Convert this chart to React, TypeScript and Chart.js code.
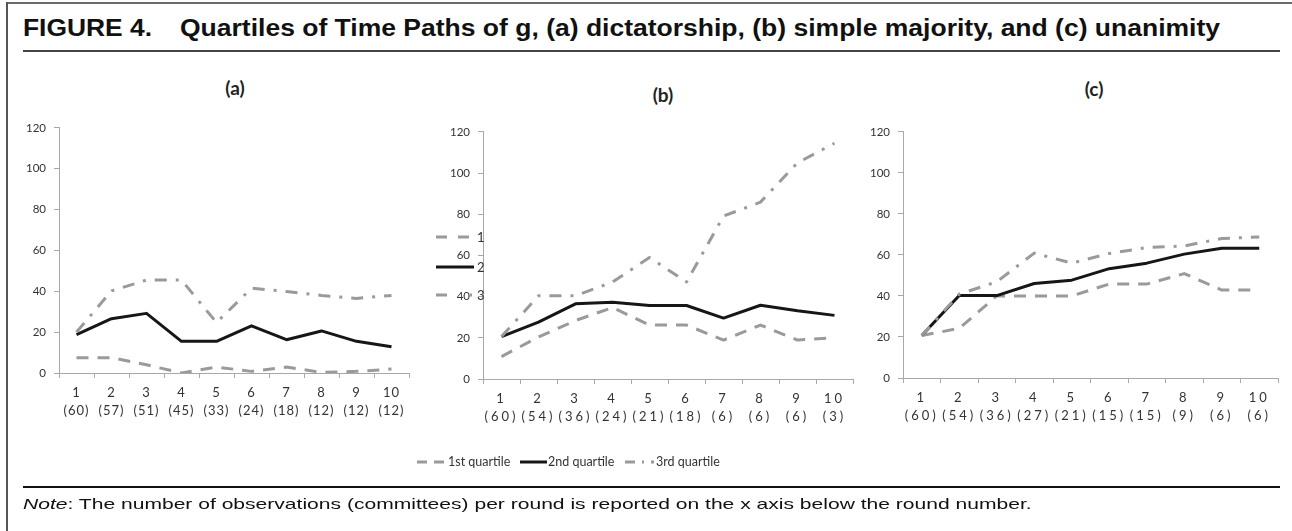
import React, { useEffect, useRef } from "react";
import { Chart, registerables } from "chart.js";
Chart.register(...registerables);

// ---- data ----
const rounds = ["1", "2", "3", "4", "5", "6", "7", "8", "9", "10"];
const obsA = ["(60)", "(57)", "(51)", "(45)", "(33)", "(24)", "(18)", "(12)", "(12)", "(12)"];
const obsB = ["(60)", "(54)", "(36)", "(24)", "(21)", "(18)", "(6)", "(6)", "(6)", "(3)"];
const obsC = ["(60)", "(54)", "(36)", "(27)", "(21)", "(15)", "(15)", "(9)", "(6)", "(6)"];

const q1A = [7.5, 7.5, 4, 0, 2.9, 0.8, 2.9, 0.3, 0.8, 1.9];
const q2A = [18.8, 26.6, 29.2, 15.5, 15.5, 23.1, 16.3, 20.6, 15.5, 12.8];
const q3A = [20, 40.2, 45.5, 45.5, 24.7, 41.5, 39.9, 38, 36.5, 38];

const q1B = [10.9, 20.4, 28.4, 34.7, 26.2, 26.2, 18.9, 26.2, 18.9, 20.1];
const q2B = [20.6, 27.6, 36.5, 37.3, 35.7, 35.7, 29.6, 35.8, 33.1, 30.9];
const q3B = [20.6, 40.4, 40.4, 47.1, 59, 47.1, 79.1, 85.9, 105, 114.5];

const q1C = [20.7, 24.2, 40, 40, 40, 45.8, 45.8, 50.9, 42.9, 42.9];
const q2C = [20.7, 40.2, 40.2, 46.1, 47.7, 53.3, 56, 60.4, 63.3, 63.3];
const q3C = [20.7, 40.9, 46.9, 60.9, 56, 60.7, 63.6, 64.4, 68, 68.8];

const seriesNames = ["1st quartile", "2nd quartile", "3rd quartile"];
const yMin = 0;
const yMax = 120;
const yStep = 20;

const TITLE_A = "FIGURE 4.";
const TITLE_B = "Quartiles of Time Paths of g, (a) dictatorship, (b) simple majority, and (c) unanimity";
const NOTE_A = "Note";
const NOTE_B = ": The number of observations (committees) per round is reported on the x axis below the round number.";

const GRAY = "#9a9a9a";
const BLACK = "#161616";
const AXIS = "#a8a8a8";
const DASH = [12, 9];
const DASHDOT = [12, 9, 3, 9];

let measureCtx: CanvasRenderingContext2D | null = null;
function textWidth(text: string, font: string) {
  if (!measureCtx) measureCtx = document.createElement("canvas").getContext("2d");
  measureCtx!.font = font;
  return measureCtx!.measureText(text).width;
}

function lsPlugin(ls: string) {
  return {
    id: "xLetterSpacing",
    beforeDraw(chart: any) {
      const xs: any = chart.scales.x;
      if (xs && !xs.__lsPatched) {
        const orig = xs.drawLabels.bind(xs);
        xs.drawLabels = (area: any) => {
          const ctx: any = chart.ctx;
          ctx.save();
          ctx.letterSpacing = ls;
          orig(area);
          ctx.restore();
        };
        xs.__lsPatched = true;
      }
    },
  };
}

type PanelProps = {
  left: number; top: number; width: number; height: number;
  plotLeft: number; plotTop: number; plotRight: number; plotBottom: number;
  obs: string[]; q1: number[]; q2: number[]; q3: number[]; ls: string;
};

function Panel(p: PanelProps) {
  const ref = useRef<HTMLCanvasElement>(null);
  useEffect(() => {
    const canvas = ref.current!;
    const labels = rounds.map((r, i) => [r, p.obs[i]]);
    const chart = new Chart(canvas, {
      type: "line",
      data: {
        labels,
        datasets: [
          { label: seriesNames[0], data: p.q1, borderColor: GRAY, borderWidth: 3, borderDash: DASH, order: 2 },
          { label: seriesNames[1], data: p.q2, borderColor: BLACK, borderWidth: 3, order: 1 },
          { label: seriesNames[2], data: p.q3, borderColor: GRAY, borderWidth: 3, borderDash: DASHDOT, order: 0 },
        ],
      },
      options: {
        responsive: false,
        animation: false,
        devicePixelRatio: 1,
        layout: {
          padding: { top: p.plotTop - p.top, right: p.left + p.width - p.plotRight, left: 0, bottom: 0 },
        },
        elements: {
          point: { radius: 0, hoverRadius: 0 },
          line: { tension: 0, fill: false, borderJoinStyle: "round", borderCapStyle: "butt" },
        },
        plugins: { legend: { display: false }, tooltip: { enabled: false } },
        scales: {
          x: {
            type: "category",
            offset: true,
            grid: { offset: true, drawOnChartArea: false, drawTicks: true, tickLength: 5, color: AXIS, lineWidth: 1 },
            border: { display: true, color: AXIS, width: 1 },
            ticks: {
              autoSkip: false, maxRotation: 0, minRotation: 0, padding: 5, color: "#333",
              font: { family: "Lato", size: 13, lineHeight: 1.45 },
            },
            afterFit: (s: any) => { s.height = p.top + p.height - p.plotBottom; },
          },
          y: {
            min: yMin, max: yMax,
            ticks: { stepSize: yStep, padding: 8, color: "#333", font: { family: "Lato", size: 11.5 } },
            grid: { drawOnChartArea: false, drawTicks: true, tickLength: 5, color: AXIS, lineWidth: 1 },
            border: { display: true, color: AXIS, width: 1 },
            afterFit: (s: any) => { s.width = p.plotLeft - p.left; },
          },
        },
      } as any,
      plugins: [lsPlugin(p.ls)],
    });
    return () => chart.destroy();
  }, []);
  return (
    <canvas
      ref={ref}
      width={p.width}
      height={p.height}
      style={{ position: "absolute", left: p.left, top: p.top, width: p.width, height: p.height }}
    />
  );
}

const txt = (left: number, top: number, size: number, extra: any = {}) => ({
  position: "absolute" as const, left, top, fontSize: size, lineHeight: `${size}px`, whiteSpace: "nowrap" as const, ...extra,
});

function Stretched(props: { left: number; top: number; size: number; target: number; width: number; style?: any; children: any }) {
  const k = props.target / Math.max(1, props.width);
  return (
    <div style={txt(props.left, props.top, props.size, { transform: `scaleX(${k})`, transformOrigin: "0 0", ...props.style })}>
      {props.children}
    </div>
  );
}

export default function App() {
  const AR = "'Liberation Sans', Arial";
  const tSize = 23;
  const wTA = textWidth(TITLE_A, `bold ${tSize}px ${AR}`);
  const wTB = textWidth(TITLE_B, `bold ${tSize}px ${AR}`);
  const nSize = 14.5;
  const wN = textWidth(NOTE_A, `italic ${nSize}px ${AR}`) + textWidth(NOTE_B, `${nSize}px ${AR}`);

  return (
    <div style={{ position: "absolute", left: 0, top: 0, width: 1292, height: 531, overflow: "hidden", background: "#fff", fontFamily: "Lato" }}>
      <Stretched left={23} top={17} size={tSize} target={129} width={wTA} style={{ fontFamily: AR, fontWeight: 700, color: "#111" }}>
        {TITLE_A}
      </Stretched>
      <Stretched left={180} top={17} size={tSize} target={1040} width={wTB} style={{ fontFamily: AR, fontWeight: 700, color: "#111" }}>
        {TITLE_B}
      </Stretched>

      <div style={txt(220, 78, 19, { fontWeight: 700, color: "#222", width: 30, textAlign: "center" })}>(a)</div>
      <div style={txt(648, 85, 19, { fontWeight: 700, color: "#222", width: 30, textAlign: "center" })}>(b)</div>
      <div style={txt(1079, 79, 19, { fontWeight: 700, color: "#222", width: 30, textAlign: "center" })}>(c)</div>

      <Panel left={12} top={113} width={410} height={320} plotLeft={59} plotTop={123} plotRight={409} plotBottom={373}
        obs={obsA} q1={q1A} q2={q2A} q3={q3A} ls="1px" />
      <Panel left={430} top={117} width={435} height={320} plotLeft={483} plotTop={127} plotRight={853} plotBottom={379}
        obs={obsB} q1={q1B} q2={q2B} q3={q3B} ls="3px" />
      <Panel left={855} top={117} width={437} height={320} plotLeft={903} plotTop={127} plotRight={1278} plotBottom={378}
        obs={obsC} q1={q1C} q2={q2C} q3={q3C} ls="3px" />

      <svg width={1292} height={531} style={{ position: "absolute", left: 0, top: 0, pointerEvents: "none" }}>
        {/* frame */}
        <line x1={6} y1={3} x2={1292} y2={3} stroke="#6b6b6b" strokeWidth={2} />
        <line x1={7} y1={2} x2={7} y2={531} stroke="#555" strokeWidth={2} />
        <line x1={23} y1={51} x2={1280} y2={51} stroke="#444" strokeWidth={2} />
        <line x1={23} y1={487} x2={1280} y2={487} stroke="#111" strokeWidth={2} />
        {/* legend samples */}
        <line x1={417} y1={462} x2={444} y2={462} stroke={GRAY} strokeWidth={3} strokeDasharray="10 7" />
        <line x1={520} y1={462} x2={547} y2={462} stroke={BLACK} strokeWidth={3} />
        <line x1={625} y1={462} x2={654} y2={462} stroke={GRAY} strokeWidth={3} strokeDasharray="10 7 2 7" />
        {/* stray partial legend */}
        <line x1={436} y1={237} x2={472} y2={237} stroke={GRAY} strokeWidth={3} strokeDasharray="11 11" />
        <line x1={436} y1={267} x2={474} y2={267} stroke={BLACK} strokeWidth={3} />
        <line x1={436} y1={295} x2={473} y2={295} stroke={GRAY} strokeWidth={3} strokeDasharray="11 23 2 10" />
      </svg>

      <div style={txt(477, 231, 13, { color: "#333" })}>1</div>
      <div style={txt(477, 261, 13, { color: "#333" })}>2</div>
      <div style={txt(477, 289, 13, { color: "#333" })}>3</div>

      <div style={txt(448, 456, 12.5, { color: "#333" })}>{seriesNames[0]}</div>
      <div style={txt(548, 456, 12.5, { color: "#333" })}>{seriesNames[1]}</div>
      <div style={txt(656, 456, 12.5, { color: "#333" })}>{seriesNames[2]}</div>

      <Stretched left={23} top={497} size={nSize} target={1009} width={wN} style={{ fontFamily: AR, color: "#111" }}>
        <i>{NOTE_A}</i>{NOTE_B}
      </Stretched>
    </div>
  );
}
